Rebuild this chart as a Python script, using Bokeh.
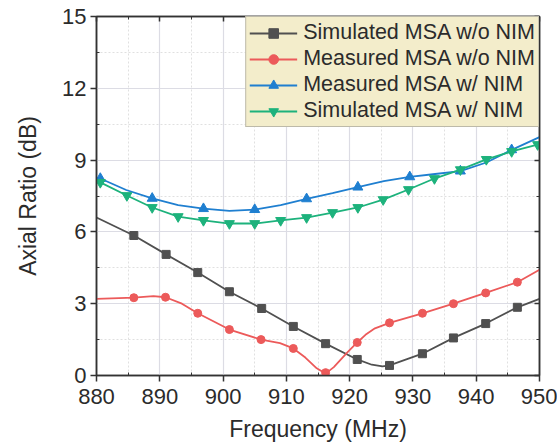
from bokeh.plotting import figure
from bokeh.models import LinearAxis, Legend, LegendItem, FixedTicker, CustomJSTickFormatter
from bokeh.embed import file_html
from bokeh.resources import INLINE

# Simulated MSA w/o NIM
sim_wo_f = [880, 885.9, 891, 896, 901, 906.1, 911.1, 916.2, 921.2, 923.5, 925.2, 926.3, 931.5, 936.4, 941.5, 946.5, 950]
sim_wo_v = [6.6, 5.85, 5.06, 4.3, 3.5, 2.8, 2.05, 1.33, 0.67, 0.45, 0.38, 0.42, 0.91, 1.57, 2.17, 2.85, 3.2]
sim_wo_mf = [885.9, 891, 896, 901, 906.1, 911.1, 916.2, 921.2, 926.3, 931.5, 936.4, 941.5, 946.5]
sim_wo_mv = [5.85, 5.06, 4.3, 3.5, 2.8, 2.05, 1.33, 0.67, 0.42, 0.91, 1.57, 2.17, 2.85]

# Measured MSA w/o NIM
mea_wo_f = [880, 885.9, 889, 890.9, 893.5, 896, 901, 906, 909, 911.1, 913, 914.8, 916.2, 917.5, 919.6, 921.2, 922.5, 924, 926.3, 931.5, 936.4, 941.5, 946.5, 950]
mea_wo_v = [3.2, 3.25, 3.32, 3.27, 3.0, 2.6, 1.92, 1.5, 1.35, 1.13, 0.75, 0.3, 0.08, 0.35, 0.96, 1.38, 1.7, 1.97, 2.2, 2.6, 3.0, 3.45, 3.9, 4.42]
mea_wo_mf = [885.9, 890.9, 896, 901, 906, 911.1, 916.2, 921.2, 926.3, 931.5, 936.4, 941.5, 946.5]
mea_wo_mv = [3.25, 3.27, 2.6, 1.92, 1.5, 1.13, 0.12, 1.38, 2.2, 2.6, 3.0, 3.45, 3.9]

# Measured MSA w/ NIM
mea_w_f = [880, 880.6, 884.7, 888.8, 892.9, 896.9, 901, 905, 909.1, 913.2, 917.3, 921.3, 925.4, 929.5, 933.5, 937.5, 941.6, 945.6, 950]
mea_w_v = [8.25, 8.23, 7.75, 7.4, 7.12, 6.97, 6.88, 6.93, 7.12, 7.38, 7.62, 7.87, 8.12, 8.3, 8.42, 8.54, 8.9, 9.43, 9.96]
mea_w_mf = [880.6, 888.8, 896.9, 905, 913.2, 921.3, 929.5, 937.5, 945.6]
mea_w_mv = [8.23, 7.4, 6.97, 6.93, 7.38, 7.87, 8.3, 8.54, 9.43]

# Simulated MSA w/ NIM
sim_w_f = [880, 880.6, 884.8, 888.8, 892.9, 896.9, 901, 905, 909.1, 913.2, 917.3, 921.3, 925.3, 929.3, 933.4, 937.5, 941.6, 945.6, 949.7, 950]
sim_w_v = [8.1, 8.07, 7.52, 7.02, 6.64, 6.48, 6.35, 6.35, 6.48, 6.6, 6.81, 7.02, 7.35, 7.77, 8.23, 8.6, 9.03, 9.36, 9.65, 9.68]
sim_w_mf = sim_w_f[1:-1]
sim_w_mv = sim_w_v[1:-1]

x_ticks = [880, 890, 900, 910, 920, 930, 940, 950]
x_minor = [885, 895, 905, 915, 925, 935, 945]
y_ticks = [0, 3, 6, 9, 12, 15]
y_minor = [1.5, 4.5, 7.5, 10.5, 13.5]

FONT = "Liberation Sans"
TXT = "#2b2b2b"

p = figure(width=557, height=446, x_range=(880, 950), y_range=(0, 15),
           output_backend="svg", toolbar_location=None,
           min_border_left=96, min_border_right=18, min_border_top=16, min_border_bottom=71)
p.background_fill_color = "white"
p.border_fill_color = "white"
p.outline_line_color = "#333333"
p.outline_line_width = 1.5

for ax in (p.xaxis[0], p.yaxis[0]):
    ax.major_label_text_font = FONT
    ax.major_label_text_font_size = "22px"
    ax.major_label_text_color = TXT
    ax.axis_label_text_font = FONT
    ax.axis_label_text_font_size = "23px"
    ax.axis_label_text_font_style = "normal"
    ax.axis_label_text_color = TXT
    ax.axis_line_color = "#333333"
    ax.axis_line_width = 1.5
    ax.major_tick_line_color = "#333333"
    ax.major_tick_line_width = 1.5
    ax.major_tick_out = 6
    ax.major_tick_in = 0
    ax.minor_tick_line_color = "#333333"
    ax.minor_tick_in = 3
    ax.minor_tick_out = 0

p.xaxis[0].ticker = FixedTicker(ticks=x_ticks, minor_ticks=x_minor)
p.yaxis[0].ticker = FixedTicker(ticks=y_ticks, minor_ticks=y_minor)
p.xaxis[0].axis_label = "Frequency (MHz)"
p.yaxis[0].axis_label = "Axial Ratio (dB)"
p.xaxis[0].major_label_standoff = 7
p.yaxis[0].major_label_standoff = 4
p.xaxis[0].axis_label_standoff = 9
p.yaxis[0].axis_label_standoff = 18

p.xgrid.ticker = FixedTicker(ticks=x_ticks, minor_ticks=x_minor)
p.ygrid.ticker = FixedTicker(ticks=y_ticks, minor_ticks=y_minor)
for g in (p.xgrid, p.ygrid):
    g.grid_line_color = "#dcdce4"
    g.grid_line_width = 1.2
    g.minor_grid_line_color = "#e0e0e0"
    g.minor_grid_line_dash = "2 2"

# mirror axes (ticks only)
top = LinearAxis(ticker=FixedTicker(ticks=x_ticks, minor_ticks=x_minor), formatter=CustomJSTickFormatter(code="return '';"))
right = LinearAxis(ticker=FixedTicker(ticks=y_ticks, minor_ticks=y_minor), formatter=CustomJSTickFormatter(code="return '';"))
for ax in (top, right):
    ax.major_label_standoff = 0
    ax.axis_line_color = "#333333"
    ax.axis_line_width = 1.5
    ax.major_tick_line_color = "#333333"
    ax.major_tick_line_width = 1.5
    ax.major_tick_in = 5
    ax.major_tick_out = 0
    ax.minor_tick_line_color = "#333333"
    ax.minor_tick_in = 3
    ax.minor_tick_out = 0
p.add_layout(top, "above")
p.add_layout(right, "right")

C_BLACK = "#505050"
C_RED = "#ec5a5a"
C_BLUE = "#1f7fd0"
C_GREEN = "#1db27c"

l1 = p.line(sim_wo_f, sim_wo_v, line_color=C_BLACK, line_width=1.8)
m1 = p.scatter(sim_wo_mf, sim_wo_mv, marker="square", size=8, fill_color=C_BLACK, line_color=C_BLACK)
l2 = p.line(mea_wo_f, mea_wo_v, line_color=C_RED, line_width=1.8)
m2 = p.scatter(mea_wo_mf, mea_wo_mv, marker="circle", size=8, fill_color=C_RED, line_color=C_RED)
l3 = p.line(mea_w_f, mea_w_v, line_color=C_BLUE, line_width=1.8)
m3 = p.scatter(mea_w_mf, mea_w_mv, marker="triangle", size=10, fill_color=C_BLUE, line_color=C_BLUE)
l4 = p.line(sim_w_f, sim_w_v, line_color=C_GREEN, line_width=1.8)
m4 = p.scatter(sim_w_mf, sim_w_mv, marker="inverted_triangle", size=10, fill_color=C_GREEN, line_color=C_GREEN)

legend = Legend(items=[
    LegendItem(label="Simulated MSA w/o NIM", renderers=[l1, m1]),
    LegendItem(label="Measured MSA w/o NIM", renderers=[l2, m2]),
    LegendItem(label="Measured MSA w/ NIM", renderers=[l3, m3]),
    LegendItem(label="Simulated MSA w/ NIM", renderers=[l4, m4]),
], location="top_right")
legend.margin = 0
legend.padding = 3
legend.spacing = 1
legend.glyph_width = 48
legend.glyph_height = 24
legend.label_height = 24
legend.label_standoff = 6
legend.label_text_font = FONT
legend.label_text_font_size = "21.5px"
legend.label_text_color = TXT
legend.background_fill_color = "#f3edcb"
legend.background_fill_alpha = 1.0
legend.border_line_color = "#888888"
legend.border_line_width = 1.2
p.add_layout(legend)

open("out.html", "w").write(file_html(p, INLINE))
